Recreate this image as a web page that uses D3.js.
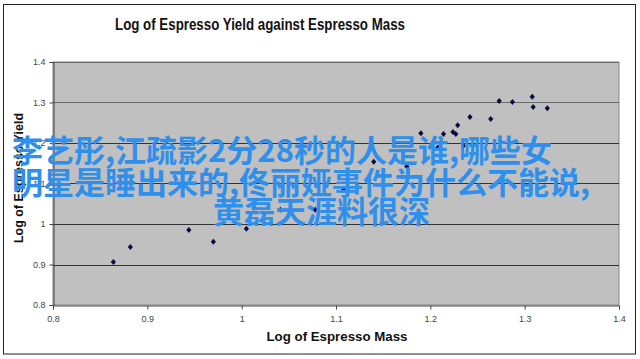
<!DOCTYPE html>
<html><head><meta charset="utf-8">
<script src="https://cdn.jsdelivr.net/npm/d3@7"></script>
<style>body{margin:0;background:#fff}svg{display:block}</style>
</head><body>
<svg id="c" width="640" height="359"></svg>
<script>
const massLog = [0.864,0.882,0.944,0.970,1.005,1.013,1.041,1.078,1.108,1.140,1.175,1.190,1.208,1.214,1.224,1.227,1.229,1.235,1.242,1.264,1.273,1.287,1.308,1.309,1.324];
const yieldLog = [0.906,0.943,0.985,0.956,0.988,1.040,1.035,1.035,1.084,1.154,1.142,1.224,1.189,1.222,1.227,1.222,1.244,1.193,1.264,1.259,1.304,1.301,1.314,1.289,1.286];
const xTicks = [0.8,0.9,1,1.1,1.2,1.3,1.4];
const yTicks = [0.8,0.9,1,1.1,1.2,1.3,1.4];
const titleText = "Log of Espresso Yield against Espresso Mass";
const xTitle = "Log of Espresso Mass";
const yTitle = "Log of Espresso Yield";
const overlayLines = ["李艺彤,江疏影2分28秒的人是谁,哪些女","明星是睡出来的,佟丽娅事件为什么不能说,","黄磊天涯料很深"];

const svg = d3.select("#c");
const L=53,R=619,T=62,B=305;
const x = d3.scaleLinear().domain([0.8,1.4]).range([L,R]);
const y = d3.scaleLinear().domain([0.8,1.4]).range([B,T]);

svg.append("rect").attr("x",3.5).attr("y",4.5).attr("width",632).attr("height",349.5)
  .attr("fill","#fff").attr("stroke","#222").attr("stroke-width",1);

svg.append("text").attr("x",260).attr("y",30).attr("text-anchor","middle")
  .attr("font-family","Liberation Sans, Arial, sans-serif").attr("font-weight","bold")
  .attr("font-size",16.5).attr("textLength",290).attr("lengthAdjust","spacingAndGlyphs")
  .attr("fill","#111").text(titleText);

svg.append("rect").attr("x",L).attr("y",T).attr("width",R-L).attr("height",B-T)
  .attr("fill","#c0c0c0").attr("stroke","#888").attr("stroke-width",1);

svg.append("g").selectAll("line").data(yTicks.filter(d=>d>0.8)).join("line")
  .attr("x1",L).attr("x2",R).attr("y1",d=>Math.round(y(d))+0.5).attr("y2",d=>Math.round(y(d))+0.5)
  .attr("stroke",d=>d>=1.3?"#6a6a6a":"#333").attr("stroke-width",1);

const fmt = d=>String(+d.toFixed(1));
const yAxis = svg.append("g").attr("transform",`translate(${L+0.5},0)`)
  .call(d3.axisLeft(y).tickValues(yTicks).tickFormat(fmt).tickSize(4).tickPadding(4));
const xAxis = svg.append("g").attr("transform",`translate(0,${B+0.5})`)
  .call(d3.axisBottom(x).tickValues(xTicks).tickFormat(fmt).tickSize(4).tickPadding(6));
[yAxis,xAxis].forEach(g=>{
  g.select(".domain").attr("stroke","#444");
  g.selectAll(".tick line").attr("stroke","#444");
  g.selectAll("text").attr("font-family","Liberation Sans, Arial, sans-serif").attr("font-size",9).attr("fill","#444");
});

svg.append("g").selectAll("path").data(massLog.map((m,i)=>[m,yieldLog[i]])).join("path")
  .attr("transform",d=>`translate(${x(d[0])},${y(d[1])})`)
  .attr("d","M0,-3L2.6,0L0,3L-2.6,0Z").attr("fill","#0a0a40");

svg.append("text").attr("x",337).attr("y",341).attr("text-anchor","middle")
  .attr("font-family","Liberation Sans, Arial, sans-serif").attr("font-weight","bold")
  .attr("font-size",13.5).attr("textLength",141).attr("lengthAdjust","spacingAndGlyphs")
  .attr("fill","#111").text(xTitle);

svg.append("text").attr("transform","translate(23,178) rotate(-90)").attr("text-anchor","middle")
  .attr("font-family","Liberation Sans, Arial, sans-serif").attr("font-weight","bold")
  .attr("font-size",13.5).attr("textLength",130).attr("lengthAdjust","spacingAndGlyphs")
  .attr("fill","#111").text(yTitle);

const ov = svg.append("g").attr("font-family","Noto Sans CJK SC, sans-serif").attr("font-weight","bold")
  .attr("font-size",31).attr("fill","#2f8fec");
const ovPos = [[12,162],[12,194],[213,223]];
ov.selectAll("text").data(overlayLines).join("text")
  .attr("x",(d,i)=>ovPos[i][0]).attr("y",(d,i)=>ovPos[i][1]).text(d=>d);
</script>
</body></html>
